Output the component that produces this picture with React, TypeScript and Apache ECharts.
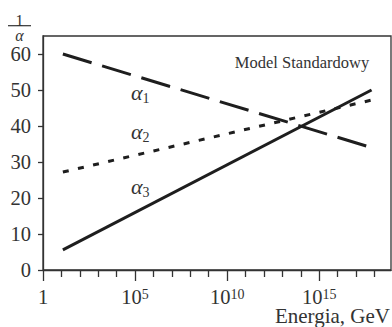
import React, { useEffect, useRef } from 'react';
import * as echarts from 'echarts';

// ---- data ----
const energyGeV = [12, 7e17];
const invAlpha1 = [60, 34];
const invAlpha2 = [27.2, 47.2];
const invAlpha3 = [5.6, 50];
const seriesNames = ['α1', 'α2', 'α3'];
const yTickValues = [0, 10, 20, 30, 40, 50, 60];
const xMajorTickValues = [1, 1e5, 1e10, 1e15];
const xMinorTickValues = [1e1, 1e2, 1e3, 1e4, 1e6, 1e7, 1e8, 1e9, 1e11, 1e12, 1e13, 1e14, 1e16, 1e17, 1e18];
const xAxisTitle = 'Energia, GeV';
const modelTitle = 'Model Standardowy';

const X_MIN = 1;
const X_MAX = Math.pow(10, 18.9);
const Y_MIN = 0;
const Y_MAX = 65;

const FONT = '"Liberation Serif", "Times New Roman", serif';
const TEXT = '#333';
const LINE = '#1e1e1e';

function pairs(xs: number[], ys: number[]) {
  return xs.map((x, i) => [x, ys[i]]);
}

export default function App() {
  const ref = useRef<HTMLDivElement>(null);
  useEffect(() => {
    if (!ref.current) return;
    const chart = echarts.init(ref.current, undefined, { renderer: 'svg' });
    const axisLineStyle = { color: '#333', width: 1.3 };
    const option: any = {
      animation: false,
      backgroundColor: '#fff',
      grid: {
        left: 43, right: 1, top: 36, bottom: 57,
        show: true, borderColor: '#333', borderWidth: 1.3, backgroundColor: 'transparent',
      },
      xAxis: [
        {
          type: 'log', logBase: 10, min: X_MIN, max: X_MAX, position: 'bottom',
          axisLine: { show: true, lineStyle: axisLineStyle },
          axisTick: { show: true, length: 11, customValues: xMajorTickValues, lineStyle: axisLineStyle },
          minorTick: { show: false },
          splitLine: { show: false },
          axisLabel: {
            customValues: xMajorTickValues,
            margin: 17,
            color: TEXT,
            fontFamily: FONT,
            formatter: (v: number) => {
              const e = Math.round(Math.log10(v));
              return e === 0 ? '{m|1}' : '{m|10}{s|' + e + '}';
            },
            rich: {
              m: { fontSize: 20.5, lineHeight: 20, fontFamily: FONT, color: TEXT },
              s: { fontSize: 14, lineHeight: 10, verticalAlign: 'top', fontFamily: FONT, color: TEXT },
            },
          },
        },
        {
          type: 'log', logBase: 10, min: X_MIN, max: X_MAX, position: 'bottom',
          axisLine: { show: false },
          axisTick: { show: true, length: 7, customValues: xMinorTickValues, lineStyle: axisLineStyle },
          minorTick: { show: false },
          splitLine: { show: false },
          axisLabel: { show: false },
        },
      ],
      yAxis: {
        type: 'value', min: Y_MIN, max: Y_MAX,
        axisLine: { show: true, lineStyle: axisLineStyle },
        axisTick: { show: true, length: 5, customValues: yTickValues, lineStyle: axisLineStyle },
        splitLine: { show: false },
        axisLabel: {
          customValues: yTickValues,
          margin: 12, fontSize: 20.5, color: TEXT, fontFamily: FONT,
        },
      },
      series: [
        {
          name: seriesNames[0], type: 'line', xAxisIndex: 0, data: pairs(energyGeV, invAlpha1),
          symbol: 'none', lineStyle: { color: LINE, width: 3, type: [30, 11] },
        },
        {
          name: seriesNames[1], type: 'line', xAxisIndex: 0, data: pairs(energyGeV, invAlpha2),
          symbol: 'none', lineStyle: { color: LINE, width: 3, type: [6, 9.5] },
        },
        {
          name: seriesNames[2], type: 'line', xAxisIndex: 0, data: pairs(energyGeV, invAlpha3),
          symbol: 'none', lineStyle: { color: LINE, width: 3, type: 'solid' },
        },
      ],
      graphic: [
        // y-axis title 1/α as a fraction
        { type: 'text', x: 19.5, y: 20, style: { text: '1', fontSize: 16, lineHeight: 14, fontFamily: FONT, fill: TEXT, textAlign: 'center', textVerticalAlign: 'middle' } },
        { type: 'line', shape: { x1: 8, y1: 25.7, x2: 31, y2: 25.7 }, style: { stroke: '#333', lineWidth: 1.2 } },
        { type: 'text', x: 19.5, y: 35.5, style: { text: 'α', fontSize: 16, lineHeight: 12, fontStyle: 'italic', fontFamily: FONT, fill: TEXT, textAlign: 'center', textVerticalAlign: 'middle' } },
        // x-axis title
        { type: 'text', x: 390, y: 315.5, style: { text: xAxisTitle, fontSize: 21, lineHeight: 16, fontFamily: FONT, fill: TEXT, textAlign: 'right', textVerticalAlign: 'middle' } },
        // model label
        { type: 'text', x: 302, y: 62, style: { text: modelTitle, fontSize: 16.5, fontFamily: FONT, fill: TEXT, textAlign: 'center', textVerticalAlign: 'middle' } },
        // series labels
        ...seriesNames.map((n, i) => ({
          type: 'text', x: 131, y: [92, 131, 186][i],
          style: {
            text: '{a|α}{s|' + n.slice(1) + '}',
            textVerticalAlign: 'middle',
            rich: {
              a: { fontSize: 22, lineHeight: 26, fontStyle: 'italic', fontFamily: FONT, fill: TEXT, color: TEXT },
              s: { fontSize: 14, lineHeight: 14, verticalAlign: 'bottom', fontFamily: FONT, fill: TEXT, color: TEXT },
            },
          },
        })),
      ],
    };
    chart.setOption(option);
    return () => chart.dispose();
  }, []);
  return <div ref={ref} style={{ position: 'fixed', left: 0, top: 0, width: 392, height: 327 }} />;
}
